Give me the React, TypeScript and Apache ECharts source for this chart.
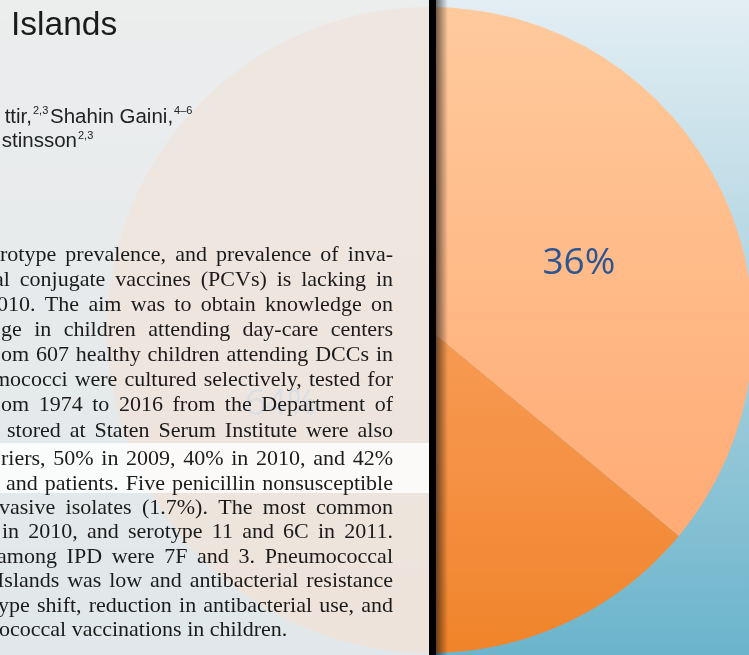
import React, { useEffect, useRef } from 'react';
import * as echarts from 'echarts';

// ---- chart data ----
const sliceNames = ['Segment A', 'Segment B'];
const sliceValues = [36, 64];

// ---- background document text (as seen behind the chart) ----
const titleText = 'Islands';
const authorLine1 = ['ttir,', '2,3', 'Shahin Gaini,', '4–6'];
const authorLine2 = ['stinsson', '2,3'];
const bodyLines = [
  'rotype prevalence, and prevalence of inva-',
  'al conjugate vaccines (PCVs) is lacking in',
  '010. The aim was to obtain knowledge on',
  'ge in children attending day-care centers',
  'om 607 healthy children attending DCCs in',
  'mococci were cultured selectively, tested for',
  'om 1974 to 2016 from the Department of',
  'stored at Staten Serum Institute were also',
  'riers, 50% in 2009, 40% in 2010, and 42%',
  'and patients. Five penicillin nonsusceptible',
  'vasive isolates (1.7%). The most common',
  'in 2010, and serotype 11 and 6C in 2011.',
  'among IPD were 7F and 3. Pneumococcal',
  'Islands was low and antibacterial resistance',
  'ype shift, reduction in antibacterial use, and',
  'ococcal vaccinations in children.',
];

// layout of the document lines (left start, baseline)
const lineStartX = [0, -6, -3, 1, 1, -7, 1, 7, 1, 6, -1, 2, -3, -3, -2, -1];
const lineBaseY = [261, 286, 311, 336, 361, 386, 411, 437, 465, 490, 514, 538, 563, 587, 612, 636];
const JUSTIFY_RIGHT = 393;

const W = 749;
const H = 655;
const DOC_RIGHT = 429;

export default function App() {
  const ref = useRef<HTMLDivElement>(null);

  useEffect(() => {
    if (!ref.current) return;
    const chart = echarts.init(ref.current, undefined, { renderer: 'svg', width: W, height: H });

    const canvas = document.createElement('canvas');
    const ctx = canvas.getContext('2d') as CanvasRenderingContext2D;
    const measure = (t: string, font: string) => {
      ctx.font = font;
      return ctx.measureText(t).width;
    };

    const bodyFont = "22px 'Liberation Serif'";
    const sansFont = "20.5px 'Liberation Sans'";
    const supFont = "11px 'Liberation Sans'";
    const textColor = '#1b1b1b';

    const graphics: any[] = [];

    // background gradient
    graphics.push({
      type: 'rect',
      z: -10,
      silent: true,
      shape: { x: 0, y: 0, width: W, height: H },
      style: {
        fill: new echarts.graphic.LinearGradient(0, 0, 0, 1, [
          { offset: 0, color: '#e3eef4' },
          { offset: 0.5, color: '#a9d1de' },
          { offset: 1, color: '#6bb4cc' },
        ]),
      },
    });

    // document overlay
    graphics.push({
      type: 'rect',
      z: 20,
      silent: true,
      shape: { x: 0, y: 0, width: DOC_RIGHT, height: H },
      style: { fill: '#ececec', opacity: 0.91 },
    });
    graphics.push({
      type: 'rect',
      z: 21,
      silent: true,
      shape: { x: 0, y: 443, width: DOC_RIGHT, height: 50 },
      style: { fill: '#ffffff', opacity: 0.8 },
    });

    // black divider + shadow
    graphics.push({
      type: 'rect',
      z: 40,
      silent: true,
      shape: { x: DOC_RIGHT, y: 0, width: 7, height: H },
      style: { fill: '#000000' },
    });
    graphics.push({
      type: 'rect',
      z: 39,
      silent: true,
      shape: { x: DOC_RIGHT + 7, y: 0, width: 12, height: H },
      style: {
        fill: new echarts.graphic.LinearGradient(0, 0, 1, 0, [
          { offset: 0, color: 'rgba(0,0,0,0.55)' },
          { offset: 1, color: 'rgba(0,0,0,0)' },
        ]),
      },
    });

    // title
    graphics.push({
      type: 'text',
      z: 30,
      silent: true,
      x: 11,
      y: 23,
      style: {
        text: titleText,
        font: "33.5px 'Liberation Sans'",
        fill: textColor,
        textAlign: 'left',
        textVerticalAlign: 'middle',
      },
    });

    // authors
    const addText = (t: string, x: number, y: number, font: string) => {
      graphics.push({
        type: 'text',
        z: 30,
        silent: true,
        x,
        y,
        style: { text: t, font, fill: '#222222', textAlign: 'left', textVerticalAlign: 'middle' },
      });
    };
    const a1w = measure(authorLine1[0], sansFont);
    addText(authorLine1[0], 32 - a1w, 115.5, sansFont);
    addText(authorLine1[1], 33, 110, supFont);
    addText(authorLine1[2], 50, 115.5, sansFont);
    addText(authorLine1[3], 50 + measure(authorLine1[2], sansFont) + 1, 110, supFont);
    const a2w = measure(authorLine2[0], sansFont);
    addText(authorLine2[0], 77 - a2w, 139.5, sansFont);
    addText(authorLine2[1], 78, 134.5, supFont);

    // body lines (justified except the last)
    bodyLines.forEach((line, i) => {
      const words = line.split(' ');
      const widths = words.map((w) => measure(w, bodyFont));
      const total = widths.reduce((a, b) => a + b, 0);
      const startX = lineStartX[i];
      const natural = measure(' ', bodyFont);
      let gap = natural;
      if (i < bodyLines.length - 1 && words.length > 1) {
        gap = (JUSTIFY_RIGHT - startX - total) / (words.length - 1);
      }
      let x = startX;
      const y = lineBaseY[i] - 7.2;
      words.forEach((w, k) => {
        graphics.push({
          type: 'text',
          z: 30,
          silent: true,
          x,
          y,
          style: { text: w, font: bodyFont, fill: textColor, textAlign: 'left', textVerticalAlign: 'middle' },
        });
        x += widths[k] + gap;
      });
    });

    chart.setOption({
      animation: false,
      backgroundColor: 'transparent',
      graphic: { elements: graphics },
      series: [
        {
          type: 'pie',
          z: 2,
          center: [430, 330],
          radius: 323,
          startAngle: 90,
          clockwise: true,
          silent: true,
          avoidLabelOverlap: false,
          label: {
            show: true,
            position: 'inner',
            formatter: '{d}%',
            color: '#2b5593',
            fontSize: 37,
            fontFamily: "'Open Sans'",
          },
          labelLine: { show: false },
          emphasis: { disabled: true },
          itemStyle: { borderWidth: 0 },
          data: [
            {
              name: sliceNames[0],
              value: sliceValues[0],
              itemStyle: {
                color: {
                  type: 'linear',
                  x: 0,
                  y: 7,
                  x2: 0,
                  y2: 653,
                  global: true,
                  colorStops: [
                    { offset: 0, color: '#ffca9c' },
                    { offset: 1, color: '#ffa46c' },
                  ],
                },
              },
            },
            {
              name: sliceNames[1],
              value: sliceValues[1],
              itemStyle: {
                color: {
                  type: 'linear',
                  x: 0,
                  y: 7,
                  x2: 0,
                  y2: 653,
                  global: true,
                  colorStops: [
                    { offset: 0, color: '#fab06e' },
                    { offset: 0.7, color: '#f59246' },
                    { offset: 1, color: '#f0842a' },
                  ],
                },
              },
            },
          ],
        },
      ],
    });

    return () => chart.dispose();
  }, []);

  return (
    <div
      ref={ref}
      style={{ position: 'fixed', left: 0, top: 0, width: W, height: H }}
    />
  );
}
